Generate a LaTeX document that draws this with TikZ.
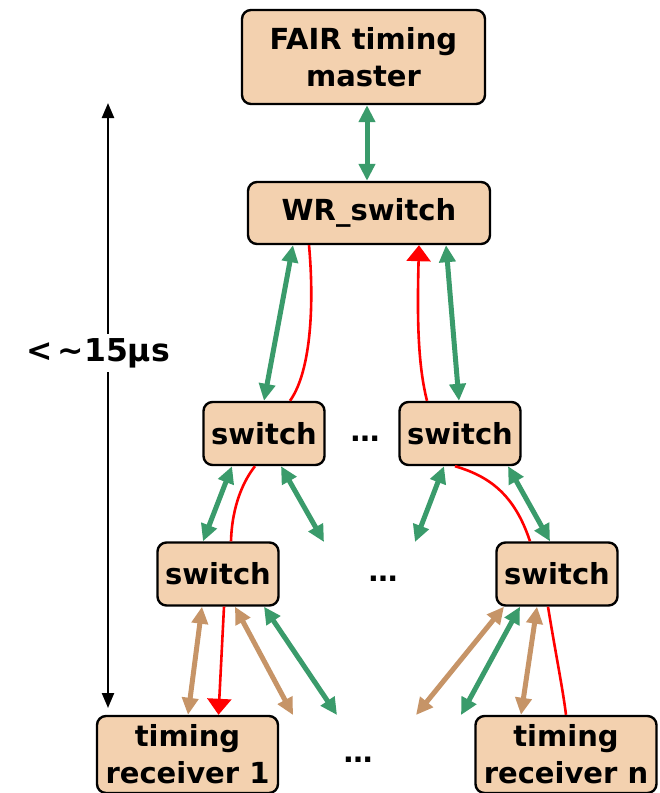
\documentclass[tikz,border=0pt]{standalone}
\usepackage{fontspec}
\setmainfont{DejaVu Sans}
\usetikzlibrary{arrows.meta}
\definecolor{peach}{HTML}{F3D1AF}
\definecolor{wrgreen}{HTML}{3A9B6B}
\definecolor{wrtan}{HTML}{C69467}
\definecolor{wrred}{HTML}{FF0000}
\begin{document}
\begin{tikzpicture}[x=1pt,y=-1pt,
  box/.style={draw=black, line width=2.4pt, rounded corners=9pt, fill=peach, align=center, inner sep=0pt, font=\bfseries\fontsize{29}{37}\selectfont},
  swbox/.style={box, minimum width=121pt, minimum height=63pt},
  garr/.style={wrgreen, line width=5pt, {Triangle[length=17pt,width=16pt]}-{Triangle[length=17pt,width=16pt]}},
  tarr/.style={wrtan, line width=5pt, {Triangle[length=17pt,width=16pt]}-{Triangle[length=17pt,width=16pt]}},
  rline/.style={wrred, line width=2.6pt},
  rarr/.style={rline, -{Triangle[length=16pt,width=24pt]}},
  dotsnode/.style={font=\bfseries\fontsize{29}{29}\selectfont, inner sep=0pt, anchor=base},
  barr/.style={black, line width=2.3pt, {Triangle[length=15pt,width=12pt]}-{Triangle[length=15pt,width=12pt]}}
]
\path[use as bounding box] (0,0) rectangle (660,793);
\clip (0,0) rectangle (660,793);

% nodes
\node[box, minimum width=243pt, minimum height=94pt] (master) at (363.5,57) {FAIR timing\\master};
\node[box, minimum width=242pt, minimum height=62pt] (wr) at (369,213) {WR\_switch};
\node[swbox] (s1a) at (264,433.5) {switch};
\node[swbox] (s1b) at (460,433.5) {switch};
\node[swbox] (s2a) at (218,574) {switch};
\node[swbox] (s2b) at (557,574) {switch};
\node[box, minimum width=181pt, minimum height=77pt] (r1) at (187.5,754.5) {timing\\receiver 1};
\node[box, minimum width=181pt, minimum height=77pt] (rn) at (566,754.5) {timing\\receiver n};

\node[dotsnode] (d1) at (365,441) {…};
\node[dotsnode] (d2) at (383,581) {…};
\node[dotsnode] (d3) at (358,762) {…};

% free ends
\coordinate (f1) at (324,542);
\coordinate (f2) at (415,542);
\coordinate (f3) at (293,715);
\coordinate (f4) at (337,715);
\coordinate (f5) at (416,715);
\coordinate (f6) at (461,715);
\coordinate (ttop) at (108,103);
\coordinate (tbot) at (108,708);

% master - WR
\draw[garr] (master.south -| 367,0) -- (wr.north -| 367,0);

% WR - level 1
\draw[garr] ([xshift=-76pt]wr.south) -- (s1a.north);
\draw[rline] ([xshift=-60pt]wr.south) .. controls (314,300) and (312,370) .. ([xshift=26pt]s1a.north);
\draw[rarr] ([xshift=-33pt]s1b.north) .. controls (418,365) and (417,320) .. ([xshift=50pt]wr.south);
\draw[garr] ([xshift=77pt]wr.south) -- ([xshift=-1pt]s1b.north);

% level 1 - level 2
\draw[garr] ([xshift=-32pt]s1a.south) -- ([xshift=-15pt]s2a.north);
\draw[rline] ([xshift=-9pt]s1a.south) .. controls (244,480) and (232,505) .. ([xshift=13pt]s2a.north);
\draw[garr] ([xshift=17pt]s1a.south) -- (f1);
\draw[garr] ([xshift=-16pt]s1b.south) -- (f2);
\draw[rline] ([xshift=-5pt]s1b.south) .. controls (488,476) and (514,493) .. ([xshift=-27pt]s2b.north);
\draw[garr] ([xshift=48pt]s1b.south) -- ([xshift=-7pt]s2b.north);

% level 2 - receivers
\draw[tarr] ([xshift=-16pt]s2a.south) -- ([xshift=0.5pt]r1.north);
\draw[rarr] ([xshift=6pt]s2a.south) -- ([xshift=31pt]r1.north);
\draw[tarr] ([xshift=17pt]s2a.south) -- (f3);
\draw[garr] ([xshift=46pt]s2a.south) -- (f4);
\draw[tarr] ([xshift=-53pt]s2b.south) -- (f5);
\draw[garr] ([xshift=-37pt]s2b.south) -- (f6);
\draw[tarr] ([xshift=-20pt]s2b.south) -- ([xshift=-45pt]rn.north);
\draw[rline] ([xshift=-9pt]s2b.south) .. controls (555,650) and (563,690) .. (rn.north);

% timing arrow
\draw[barr] (ttop) -- (tbot);
\node[fill=white, inner sep=4pt, font=\bfseries\fontsize{31.5}{31.5}\selectfont] (lat) at (98,353) {<\,\textasciitilde15µs};
\end{tikzpicture}
\end{document}
